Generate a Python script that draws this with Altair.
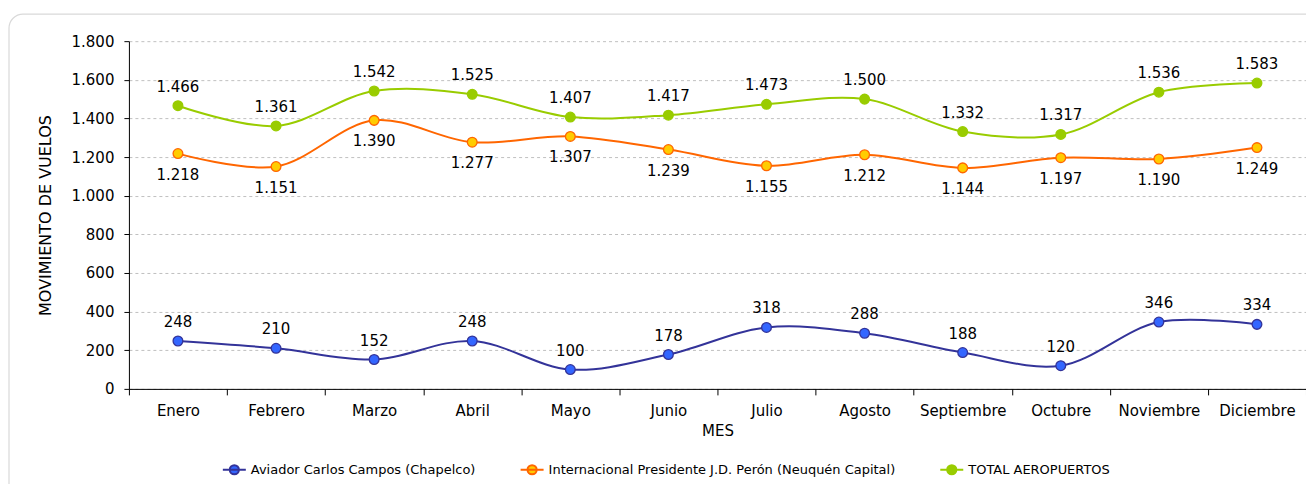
import altair as alt
import pandas as pd

meses = ["Enero", "Febrero", "Marzo", "Abril", "Mayo", "Junio", "Julio",
         "Agosto", "Septiembre", "Octubre", "Noviembre", "Diciembre"]
chapelco = [248, 210, 152, 248, 100, 178, 318, 288, 188, 120, 346, 334]
neuquen = [1218, 1151, 1390, 1277, 1307, 1239, 1155, 1212, 1144, 1197, 1190, 1249]
total = [1466, 1361, 1542, 1525, 1407, 1417, 1473, 1500, 1332, 1317, 1536, 1583]

series_names = ["Aviador Carlos Campos (Chapelco)",
                "Internacional Presidente J.D. Perón (Neuquén Capital)",
                "TOTAL AEROPUERTOS"]
line_colors = ["#333399", "#FF6600", "#99CC00"]
marker_fills = ["#3366FF", "#FFCC00", "#99CC00"]
label_side = ["above", "below", "above"]

rows = []
for name, vals, side in zip(series_names, [chapelco, neuquen, total], label_side):
    for m, v in zip(meses, vals):
        rows.append({"mes": m, "serie": name, "valor": v,
                     "etiqueta": f"{v:,}".replace(",", "."), "lado": side})
df = pd.DataFrame(rows)

FONT = "DejaVu Sans"
sym_path = "M-1,0H1M0.4,0A0.4,0.4,0,1,1,-0.4,0A0.4,0.4,0,1,1,0.4,0Z"

legend = alt.Legend(
    title=None, orient="none", direction="horizontal", legendX=93, legendY=416,
    symbolType=sym_path, symbolSize=529, symbolStrokeWidth=2,
    labelFont=FONT, labelFontSize=13, labelColor="#000000", labelOffset=4,
    labelLimit=500, columnPadding=40, padding=0,
)

x_enc = alt.X(
    "mes:N", sort=meses, bandPosition=0.5,
    scale=alt.Scale(type="band", paddingInner=0, paddingOuter=0, domain=meses),
    axis=alt.Axis(title="MES", labelAngle=0, tickBand="extent", tickSize=6,
                  labelPadding=9, titlePadding=5, labelFontSize=15,
                  titleFontSize=15, titleFontWeight="normal",
                  domainColor="#000000", tickColor="#000000", grid=False),
)
y_enc = alt.Y(
    "valor:Q",
    scale=alt.Scale(domain=[0, 1800], nice=False),
    axis=alt.Axis(title="MOVIMIENTO DE VUELOS", values=list(range(0, 1801, 200)),
                  labelExpr="replace(format(datum.value, ','), ',', '.')",
                  tickSize=5, labelPadding=10, titlePadding=18, labelFontSize=15,
                  titleFontSize=16, titleFontWeight="normal",
                  domainColor="#000000", tickColor="#000000",
                  grid=True, gridColor="#c0c0c0", gridDash=[3, 3]),
)
stroke_scale = alt.Scale(domain=series_names, range=line_colors)
fill_scale = alt.Scale(domain=series_names, range=marker_fills)

base = alt.Chart(df)

card = alt.Chart(alt.Data(values=[{}])).mark_rect(
    fillOpacity=0, stroke="#d9d9d9", strokeWidth=1.2, cornerRadius=14
).encode(x=alt.value(-120), x2=alt.value(1200), y=alt.value(-27), y2=alt.value(470))

lines = base.mark_line(interpolate="catmull-rom", strokeWidth=2).encode(
    x=x_enc, y=y_enc,
    stroke=alt.Stroke("serie:N", scale=stroke_scale, legend=legend),
)
points = base.mark_point(filled=True, size=95, strokeWidth=1.3, opacity=1).encode(
    x=x_enc, y=y_enc,
    fill=alt.Fill("serie:N", scale=fill_scale, legend=legend),
    stroke=alt.Stroke("serie:N", scale=stroke_scale, legend=legend),
)
text_above = base.transform_filter(alt.datum.lado == "above").mark_text(
    dy=-19, font=FONT, fontSize=15, color="#000000"
).encode(x=x_enc, y=y_enc, text="etiqueta:N")
text_below = base.transform_filter(alt.datum.lado == "below").mark_text(
    dy=21, font=FONT, fontSize=15, color="#000000"
).encode(x=x_enc, y=y_enc, text="etiqueta:N")

chart = alt.layer(card, lines, points, text_above, text_below).properties(
    width=1178, height=348,
    autosize=alt.AutoSizeParams(type="none"),
    padding={"left": 121, "top": 33, "right": 0, "bottom": 95},
    background="#ffffff",
).configure(font=FONT).configure_view(stroke=None).configure_axis(
    labelColor="#000000", titleColor="#000000", labelFont=FONT, titleFont=FONT
)

chart.save("out.html", embed_options={"renderer": "svg", "actions": False})
